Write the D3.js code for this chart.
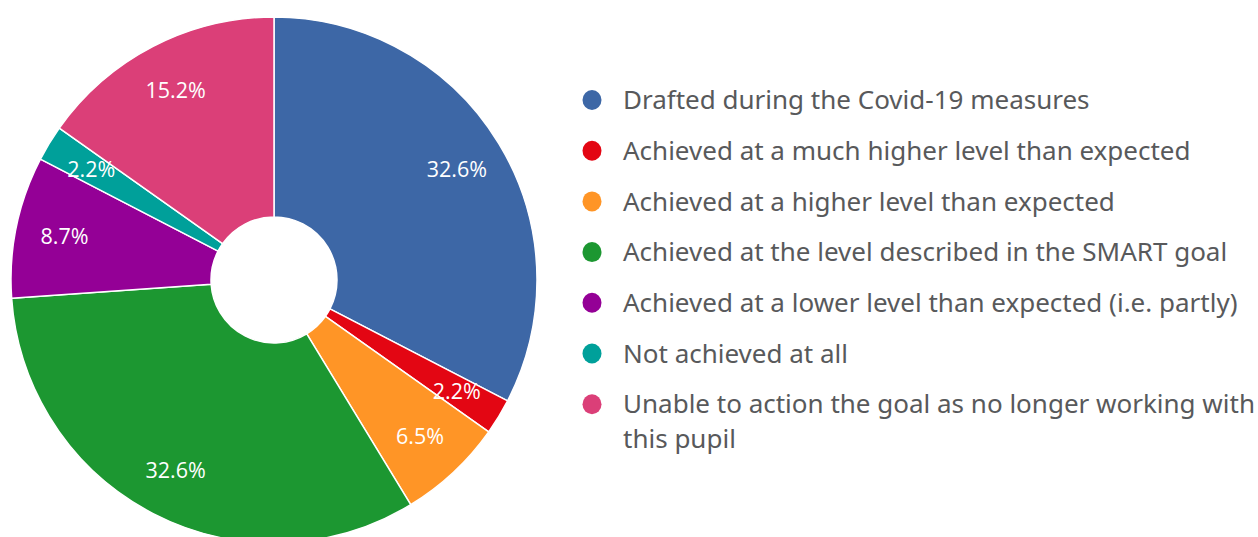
<!DOCTYPE html>
<html>
<head>
<meta charset="utf-8">
<script src="https://cdn.jsdelivr.net/npm/d3@7"></script>
<style>
  html, body { margin: 0; padding: 0; background: #fff; }
  svg { display: block; }
</style>
</head>
<body>
<svg id="chart" width="1258" height="537"></svg>
<script>
// Goal outcome categories, their shares (%) and slice colours
const categories = [
  "Drafted during the Covid-19 measures",
  "Achieved at a much higher level than expected",
  "Achieved at a higher level than expected",
  "Achieved at the level described in the SMART goal",
  "Achieved at a lower level than expected (i.e. partly)",
  "Not achieved at all",
  "Unable to action the goal as no longer working with this pupil"
];
const values = [32.6, 2.2, 6.5, 32.6, 8.7, 2.2, 15.2];
const colors = ["#3d67a6", "#e30613", "#ff9526", "#1c9731", "#940096", "#00a09a", "#db3f78"];
// Legend text, split into display lines
const legendLines = [
  ["Drafted during the Covid-19 measures"],
  ["Achieved at a much higher level than expected"],
  ["Achieved at a higher level than expected"],
  ["Achieved at the level described in the SMART goal"],
  ["Achieved at a lower level than expected (i.e. partly)"],
  ["Not achieved at all"],
  ["Unable to action the goal as no longer working with", "this pupil"]
];

const svg = d3.select("#chart");
const cx = 274, cy = 280, outerR = 263, innerR = 63, labelR = 214;

const data = categories.map((c, i) => ({ name: c, value: values[i], color: colors[i] }));

const pie = d3.pie().value(d => d.value).sort(null);
const arc = d3.arc().innerRadius(innerR).outerRadius(outerR);
const labelArc = d3.arc().innerRadius(labelR).outerRadius(labelR);

const g = svg.append("g").attr("transform", `translate(${cx},${cy})`);
const arcs = pie(data);

g.selectAll("path.slice")
  .data(arcs)
  .join("path")
  .attr("class", "slice")
  .attr("d", arc)
  .attr("fill", d => d.data.color)
  .attr("stroke", "#fff")
  .attr("stroke-width", 1.5)
  .attr("stroke-linejoin", "round");

g.selectAll("text.pct")
  .data(arcs)
  .join("text")
  .attr("class", "pct")
  .attr("transform", d => `translate(${labelArc.centroid(d)})`)
  .attr("text-anchor", "middle")
  .attr("dy", "0.36em")
  .attr("fill", "#fff")
  .style("font-family", "'Open Sans', 'Noto Sans', sans-serif")
  .style("font-size", "21.5px")
  .text(d => d.data.value.toFixed(1) + "%");

// Legend
const legendX = 592, legendY0 = 100, rowH = 50.7, lineH = 35;
const legend = svg.append("g");
const items = legend.selectAll("g.item")
  .data(data)
  .join("g")
  .attr("class", "item")
  .attr("transform", (d, i) => `translate(${legendX},${legendY0 + i * rowH})`);

items.append("ellipse")
  .attr("rx", 9.5)
  .attr("ry", 10)
  .attr("fill", d => d.color);

items.append("text")
  .attr("x", 31)
  .attr("y", 0)
  .attr("fill", "#58595b")
  .style("font-family", "'Noto Sans', sans-serif")
  .style("font-size", "26px")
  .selectAll("tspan")
  .data((d, i) => legendLines[i])
  .join("tspan")
  .attr("x", 31)
  .attr("dy", (t, j) => j === 0 ? "0.35em" : lineH + "px")
  .text(t => t);
</script>
</body>
</html>
